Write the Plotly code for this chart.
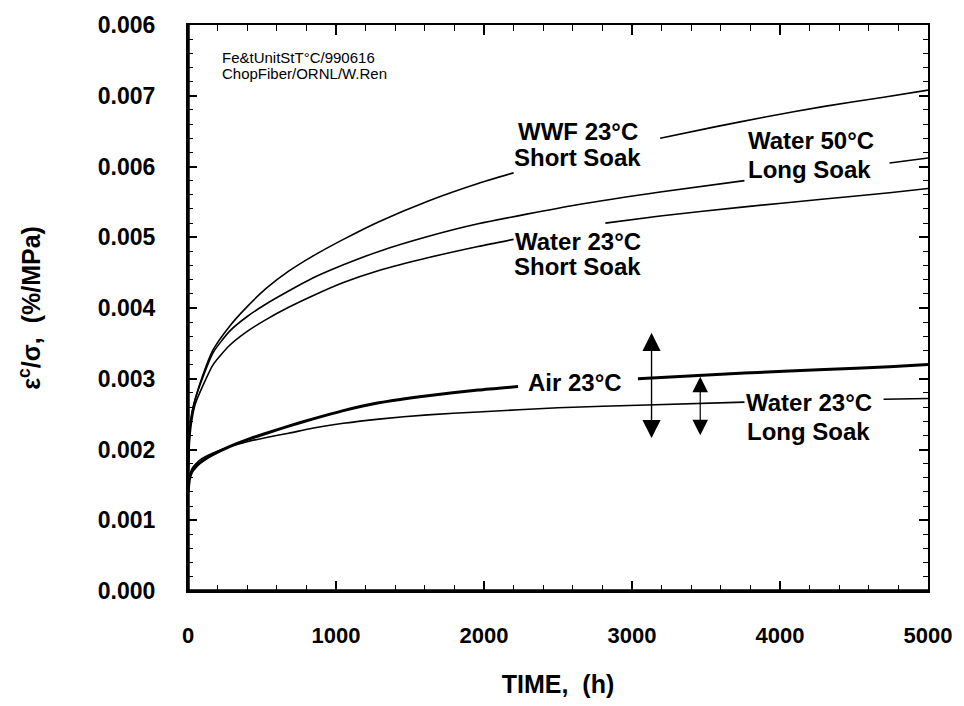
import plotly.graph_objects as go

# Creep compliance (strain / stress) versus time for chopped-fiber composite
wwf_t = [0, 10, 25, 50, 100, 170, 280, 400, 530, 680, 840, 1050, 1290, 1620, 1960, 2200,
         3190, 3560, 3900, 4300, 4700, 5000]
wwf_v = [0.00160, 0.00220, 0.00250, 0.00272, 0.00305, 0.00341, 0.00374, 0.00402, 0.00428,
         0.00452, 0.00473, 0.00497, 0.00522, 0.00551, 0.00576, 0.00591,
         0.00640, 0.00656, 0.00670, 0.00685, 0.00698, 0.00708]

w50_t = [0, 10, 25, 50, 100, 170, 280, 400, 530, 680, 840, 1050, 1290, 1620, 1960, 2630,
         3190, 3760, 4740, 5000]
w50_v = [0.00160, 0.00220, 0.00250, 0.00272, 0.00302, 0.00337, 0.00367, 0.00388, 0.00406,
         0.00424, 0.00442, 0.00461, 0.00480, 0.00501, 0.00519, 0.00546,
         0.00564, 0.00580, 0.00605, 0.00612]

w23s_t = [0, 10, 25, 50, 100, 170, 280, 400, 530, 680, 840, 1050, 1290, 1620, 1960, 2200,
          2820, 3190, 3760, 4300, 4740, 5000]
w23s_v = [0.00150, 0.00210, 0.00240, 0.00265, 0.00290, 0.00320, 0.00347, 0.00367, 0.00384,
          0.00401, 0.00417, 0.00436, 0.00453, 0.00471, 0.00487, 0.00497,
          0.00520, 0.00530, 0.00543, 0.00554, 0.00563, 0.00569]

air_t = [0, 10, 25, 50, 80, 120, 170, 280, 400, 530, 680, 840, 1050, 1290, 1620, 1960, 2230,
         3040, 3760, 4300, 4740, 5000]
air_v = [0.00140, 0.00158, 0.00168, 0.00175, 0.00181, 0.00187, 0.00193, 0.00204, 0.00214,
         0.00223, 0.00233, 0.00243, 0.00255, 0.00266, 0.00276, 0.00284, 0.00289,
         0.00300, 0.00308, 0.00313, 0.00317, 0.00320]

w23l_t = [0, 10, 25, 50, 80, 120, 170, 280, 400, 530, 680, 840, 1050, 1290, 1620, 1960, 2500,
          3100, 3760, 4700, 5000]
w23l_v = [0.00140, 0.00162, 0.00172, 0.00179, 0.00185, 0.00190, 0.00195, 0.00204, 0.00211,
          0.00217, 0.00223, 0.00230, 0.00237, 0.00243, 0.00249, 0.00253, 0.00259,
          0.00263, 0.00267, 0.00271, 0.00272]

# curve breaks where the in-line labels sit (hours)
wwf_gap = (2200, 3190)
w50_gap = (3760, 4740)
w23s_gap = (2200, 2820)
air_gap = (2230, 3040)
w23l_gap = (3760, 4700)

y_tickvals = [0.000, 0.001, 0.002, 0.003, 0.004, 0.005, 0.006, 0.007, 0.008]
y_ticktext = ["0.000", "0.001", "0.002", "0.003", "0.004", "0.005", "0.006", "0.007", "0.006"]
x_tickvals = [0, 1000, 2000, 3000, 4000, 5000]

# scatter bands (hours, lower, upper)
band1 = (3132, 0.00214, 0.00365)
band2 = (3461, 0.00218, 0.00303)

FONT = "Liberation Sans, Arial, Helvetica, sans-serif"


def split(t, v, gap):
    xs, ys = [], []
    for i, (ti, vi) in enumerate(zip(t, v)):
        if i > 0 and t[i - 1] <= gap[0] and ti >= gap[1]:
            xs.append(None)
            ys.append(None)
        xs.append(ti)
        ys.append(vi)
    return xs, ys


fig = go.Figure()
series = [
    (wwf_t, wwf_v, wwf_gap, 1.6),
    (w50_t, w50_v, w50_gap, 1.6),
    (w23s_t, w23s_v, w23s_gap, 1.6),
    (air_t, air_v, air_gap, 3.0),
    (w23l_t, w23l_v, w23l_gap, 1.6),
]
for t, v, gap, w in series:
    xs, ys = split(t, v, gap)
    fig.add_trace(go.Scatter(x=xs, y=ys, mode="lines", connectgaps=False,
                             line=dict(color="black", width=w, shape="spline", smoothing=0.6),
                             showlegend=False, hoverinfo="skip"))

labels = [
    ("WWF 23°C", 2634, 0.006495),
    ("Short Soak", 2634, 0.006134),
    ("Water 50°C", 4207, 0.00637),
    ("Long Soak", 4200, 0.005953),
    ("Water 23°C", 2634, 0.004937),
    ("Short Soak", 2634, 0.00459),
    ("Air 23°C", 2614, 0.002949),
    ("Water 23°C", 4194, 0.00267),
    ("Long Soak", 4194, 0.002253),
]
for txt, x, y in labels:
    fig.add_annotation(x=x, y=y, text=txt, showarrow=False, xanchor="center", yanchor="middle",
                       font=dict(family=FONT, size=24, color="black", weight="bold"))

for (x, lo, hi), w in [(band1, 1.4), (band2, 1.2)]:
    fig.add_annotation(x=x, y=hi, ax=x, ay=lo, axref="x", ayref="y", xref="x", yref="y",
                       text="", showarrow=True, arrowhead=2, startarrowhead=2,
                       arrowside="end+start", arrowsize=2.6, startarrowsize=2.6,
                       arrowwidth=w, arrowcolor="black")

for txt, y in [("Fe&tUnitStT°C/990616", 0.00754), ("ChopFiber/ORNL/W.Ren", 0.00731)]:
    fig.add_annotation(x=215, y=y, text=txt, showarrow=False, xanchor="left", yanchor="middle",
                       font=dict(family=FONT, size=15, color="black"))

fig.update_xaxes(range=[0, 5000], tickvals=x_tickvals, ticks="inside", ticklen=10, tickwidth=1.5,
                 tickcolor="black", showline=True, linecolor="black", linewidth=2,
                 mirror="allticks", showgrid=False, zeroline=False,
                 minor=dict(ticks="inside", ticklen=6, dtick=200, tickcolor="black", tickwidth=1),
                 tickfont=dict(family=FONT, size=22, color="black", weight="bold"),
                 ticklabelstandoff=24,
                 title=dict(text="TIME,  (h)", standoff=28,
                            font=dict(family=FONT, size=25, color="black", weight="bold")))
fig.update_yaxes(range=[0, 0.008], tickvals=y_tickvals, ticktext=y_ticktext, ticks="inside",
                 ticklen=9, tickwidth=1.5, tickcolor="black", showline=True, linecolor="black",
                 linewidth=2, mirror="allticks", showgrid=False, zeroline=False,
                 minor=dict(ticks="inside", ticklen=5, dtick=0.0002, tickcolor="black", tickwidth=1),
                 tickfont=dict(family=FONT, size=23, color="black", weight="bold"),
                 ticklabelstandoff=26,
                 title=dict(text="ε<sup>c</sup>/σ,  (%/MPa)", standoff=50,
                            font=dict(family=FONT, size=25, color="black", weight="bold")))

# heavier left and bottom frame
fig.add_shape(type="line", xref="paper", yref="paper", x0=0, x1=0, y0=0, y1=1,
              line=dict(color="black", width=3.5))
fig.add_shape(type="line", xref="paper", yref="paper", x0=0, x1=1, y0=0, y1=0,
              line=dict(color="black", width=3.5))

fig.update_layout(width=964, height=706, margin=dict(l=188, r=32, t=16, b=114),
                  paper_bgcolor="white", plot_bgcolor="white", showlegend=False)

fig.write_html("out.html")
